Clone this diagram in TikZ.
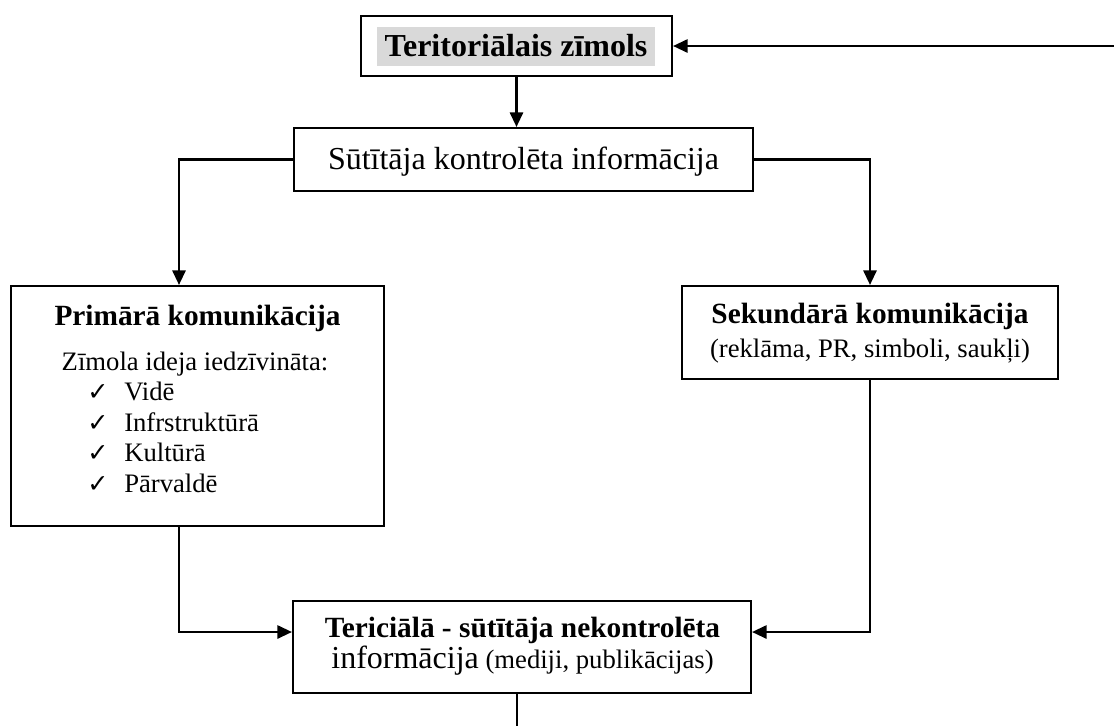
\documentclass[tikz,border=0pt]{standalone}
\usepackage{fontspec}
\setmainfont{Liberation Serif}
\newfontfamily\symfont{DejaVu Sans}
\usetikzlibrary{arrows.meta}
\definecolor{hlgray}{RGB}{217,217,217}

\newcommand{\fsBig}{\fontsize{24pt}{28pt}\selectfont}
\newcommand{\fsHead}{\fontsize{22pt}{26pt}\selectfont\bfseries}
\newcommand{\fsBody}{\fontsize{20pt}{24pt}\selectfont}
\newcommand{\tick}{{\symfont\fontsize{19pt}{21pt}\selectfont ✓}}

\begin{document}
\begin{tikzpicture}[x=0.75pt,y=-0.75pt,
  box/.style={draw, line width=1.6pt, inner sep=0pt},
  lbl/.style={inner sep=0pt, anchor=base},
  item/.style={inner sep=0pt, anchor=base west, font=\fsBody},
  link/.style={line width=1.6pt},
  arr/.style={link, -{Triangle[length=11pt,width=10pt]}}]
\useasboundingbox (0,0) rectangle (1114,726);

% frames
\node[box, minimum width={311*0.75pt}, minimum height={60*0.75pt}] (top) at (516.5,46) {};
\node[box, minimum width={459*0.75pt}, minimum height={63*0.75pt}] (sut) at (523.5,159.5) {};
\node[box, minimum width={373*0.75pt}, minimum height={240*0.75pt}] (prim) at (197.5,406) {};
\node[box, minimum width={376*0.75pt}, minimum height={93*0.75pt}] (sek) at (870,332.5) {};
\node[box, minimum width={458*0.75pt}, minimum height={92*0.75pt}] (ter) at (522,647) {};

% highlighted brand title
\node[fill=hlgray, inner sep=0pt, minimum width={278*0.75pt}, minimum height={39*0.75pt}] (tophl) at (516,46.5) {};
\node[lbl, font=\fsBig\bfseries] (toptext) at (516,56) {Teritoriālais zīmols};

% controlled information
\node[lbl, font=\fsBig] (suttext) at (523.5,169) {Sūtītāja kontrolēta informācija};

% primary communication
\node[lbl, font=\fsHead] (primtitle) at (197.5,325) {Primārā komunikācija};
\node[lbl, font=\fsBody] (primlead) at (195,370) {Zīmola ideja iedzīvināta:};
\node[lbl, anchor=base west] (c1) at (87,400.7) {\tick};
\node[lbl, anchor=base west] (c2) at (87,431) {\tick};
\node[lbl, anchor=base west] (c3) at (87,461.5) {\tick};
\node[lbl, anchor=base west] (c4) at (87,492) {\tick};
\node[item] (i1) at (124,400.7) {Vidē};
\node[item] (i2) at (124,431) {Infrstruktūrā};
\node[item] (i3) at (124,461.5) {Kultūrā};
\node[item] (i4) at (124,492) {Pārvaldē};

% secondary communication
\node[lbl, font=\fsHead] (sektitle) at (870,323) {Sekundārā komunikācija};
\node[lbl, font=\fsBody] (seksub) at (870,357) {(reklāma, PR, simboli, saukļi)};

% tertiary communication
\node[lbl, font=\fsHead] (tertitle) at (522.5,637) {Tericiālā - sūtītāja nekontrolēta};
\node[lbl] (tersub) at (522.5,668) {{\fsBig informācija}{\fsBody\ (mediji, publikācijas)}};

% connector helpers
\coordinate (inflow) at (1114,46);
\coordinate (pcol) at (179,0);
\coordinate (mrow) at (0,632);
\coordinate (outflow) at (517,726);

% connectors
\draw[arr] (inflow) -- (top.east);
\draw[arr] (top.south) -- (top.south |- sut.north);
\draw[arr] (sut.west) -| (pcol |- prim.north);
\draw[arr] (sut.east) -| (sek.north);
\draw[arr] (pcol |- prim.south) |- (ter.west |- mrow);
\draw[arr] (sek.south) |- (ter.east |- mrow);
\draw[link] (outflow |- ter.south) -- (outflow);
\end{tikzpicture}
\end{document}
